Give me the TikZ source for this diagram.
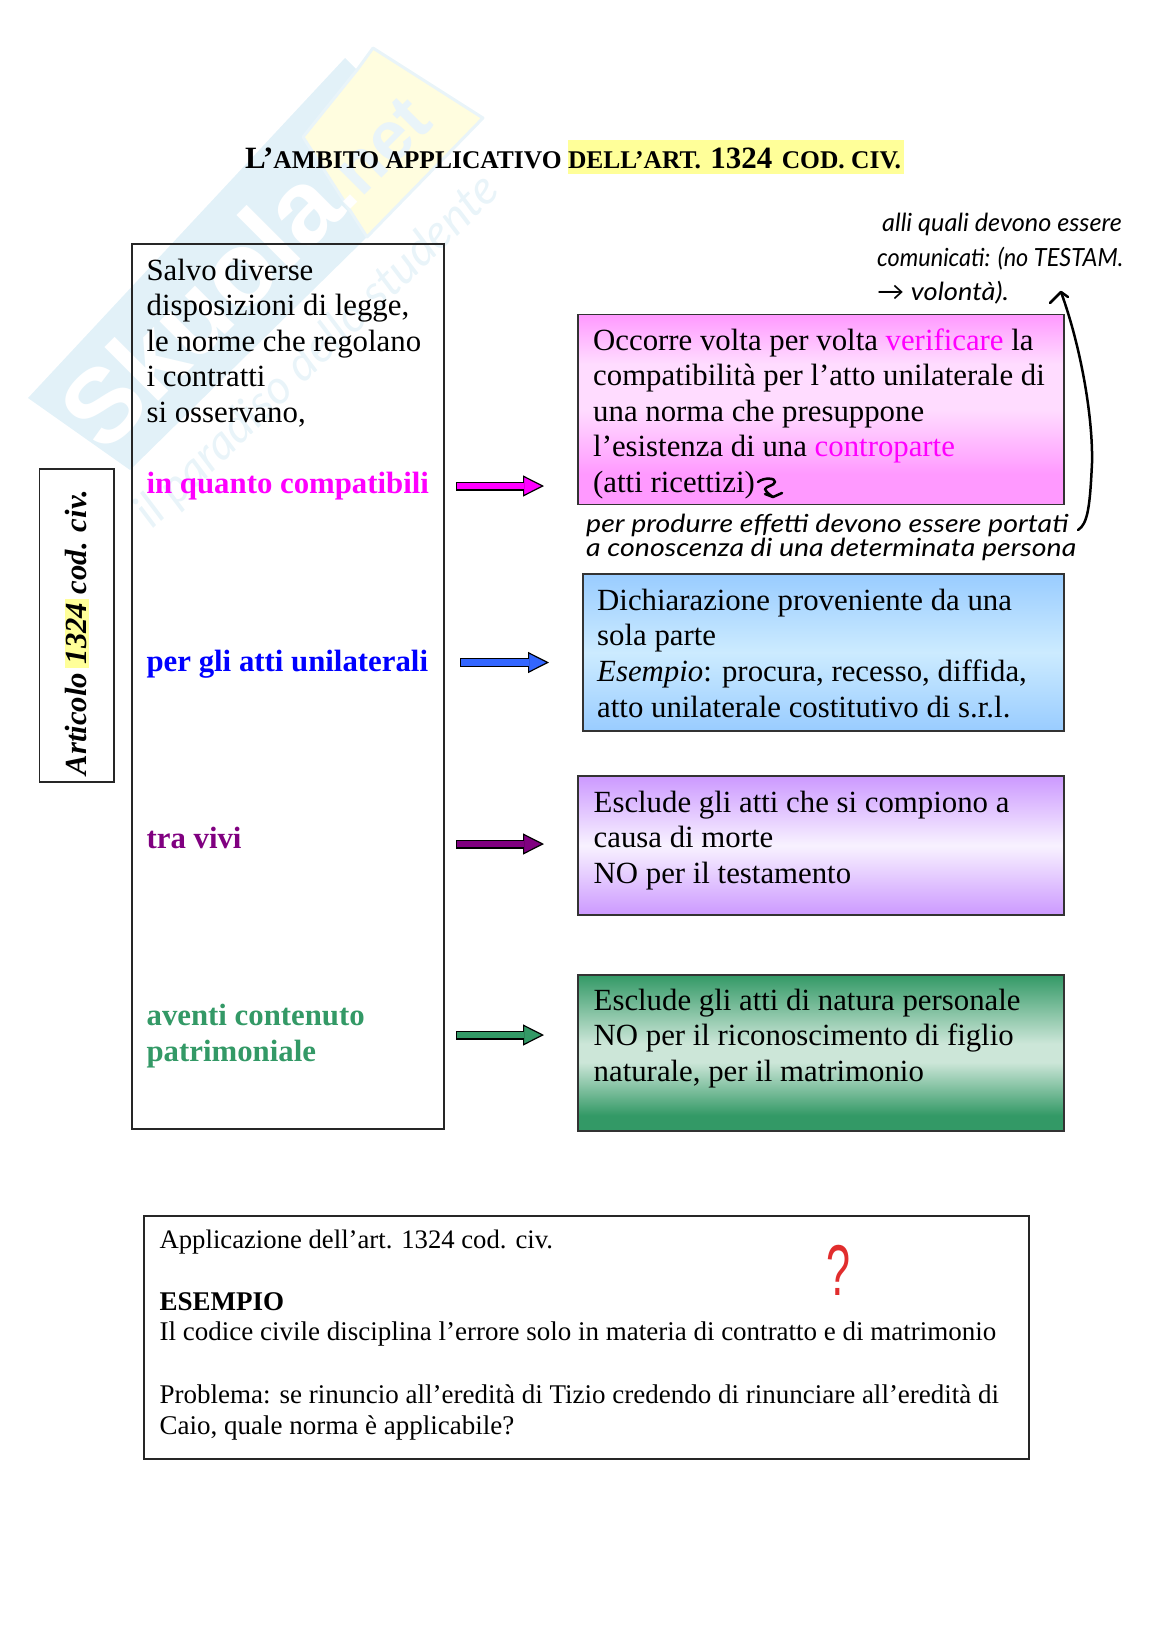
\documentclass[tikz,border=0pt]{standalone}
\usepackage{fontspec}
\setmainfont{Liberation Serif}
\newfontfamily\wmfont{Liberation Sans}
\newfontfamily\handfont{Lato}
\usetikzlibrary{arrows.meta,calc}
\definecolor{hl}{HTML}{FFFF99}
\definecolor{wmblue}{HTML}{E2F1F8}
\definecolor{wmsoft}{HTML}{E9F4F9}
\definecolor{wmyellow}{HTML}{FFFDDF}
\definecolor{mag}{HTML}{FF00FF}
\definecolor{blu}{HTML}{0000FF}
\definecolor{arrowblu}{HTML}{3366FF}
\definecolor{pur}{HTML}{800080}
\definecolor{grn}{HTML}{339966}
\definecolor{pkA}{HTML}{FF99FF}\definecolor{pkB}{HTML}{FFDCFF}
\definecolor{blA}{HTML}{99CCFF}\definecolor{blB}{HTML}{CCEBFF}
\definecolor{prA}{HTML}{CC99FF}\definecolor{prB}{HTML}{F8F2FF}
\definecolor{grA}{HTML}{339966}\definecolor{grB}{HTML}{CCE6D8}
\pgfdeclareverticalshading{pinkgrad}{100bp}{color(0bp)=(pkA);color(25bp)=(pkA);color(33bp)=(pkA);color(50bp)=(pkB);color(62bp)=(pkB);color(75bp)=(pkA);color(100bp)=(pkA)}
\pgfdeclareverticalshading{bluegrad}{100bp}{color(0bp)=(blA);color(25bp)=(blA);color(50bp)=(blB);color(75bp)=(blA);color(100bp)=(blA)}
\pgfdeclareverticalshading{purgrad}{100bp}{color(0bp)=(prA);color(25bp)=(prA);color(50bp)=(prB);color(75bp)=(prA);color(100bp)=(prA)}
\pgfdeclareverticalshading{grngrad}{100bp}{color(0bp)=(grA);color(25bp)=(grA);color(30bp)=(grA);color(47bp)=(grB);color(53bp)=(grB);color(75bp)=(grA);color(100bp)=(grA)}
\tikzset{
  px/.style={x=1pt,y=-1pt},
  plainbox/.style={draw=black!85,line width=1.3pt,inner sep=0pt,outer sep=0pt},
  gradbox/.style={draw=black!80,line width=1.3pt,inner sep=0pt,outer sep=0pt,shade,shading=#1},
  body/.style={anchor=north west,inner sep=0pt,align=left,font=\fontsize{30.8}{35.5}\selectfont},
  boldbody/.style={anchor=north west,inner sep=0pt,align=left,font=\bfseries\fontsize{30.8}{35.5}\selectfont},
  small/.style={anchor=north west,inner sep=0pt,align=left,font=\fontsize{27}{31}\selectfont},
  hand/.style={anchor=base west,inner sep=0pt,font=\handfont\itshape\fontsize{25}{25}\selectfont},
  pen/.style={line width=2.5pt,line cap=round,line join=round,black},
  blockarrow/.style={draw=black,line width=9pt,-{Triangle[length=21pt,width=21pt,fill=#1,line width=1.2pt]},
     postaction={draw=#1,line width=6.4pt,-,shorten >=20pt,shorten <=1.3pt}},
}
\newcommand{\fs}{\rule{0pt}{24pt}}
\newcommand{\fss}{\rule{0pt}{21pt}}
\begin{document}
\begin{tikzpicture}[px]
\useasboundingbox (0,0) rectangle (1148,1627);
% watermark
\fill[wmblue] (28,398) -- (345,58) -- (357,70) -- (303,137) -- (367,237) -- (130,470) -- cycle;
\filldraw[fill=wmyellow,draw=wmsoft,line width=3pt,line join=round] (373,48) -- (483,118) -- (367,237) -- (303,137) -- (357,70) -- cycle;
\node[name=wm,rotate=45,anchor=base west,text=white,inner sep=0pt,font=\wmfont\bfseries\fontsize{105}{105}\selectfont] at (104,456) {Skuola};
\node[name=wmdot,rotate=45,anchor=base west,text=white,inner sep=0pt,font=\wmfont\bfseries\fontsize{70}{70}\selectfont] at (347,213) {.};
\node[name=wmnet,rotate=45,anchor=base west,text=wmsoft,inner sep=0pt,font=\wmfont\bfseries\fontsize{70}{70}\selectfont] at (361,199) {net};
\node[name=wmsub,rotate=44,text=wmsoft,inner sep=0pt,font=\handfont\itshape\fontsize{47}{47}\selectfont] at (318,352) {il paradiso dello studente};
% title
\node[name=title,anchor=base west,inner sep=0pt,font=\bfseries\fontsize{25.5}{30}\selectfont] at (245,168)
 {{\fontsize{31}{30}\selectfont L’}AMBITO APPLICATIVO \setlength{\fboxsep}{0pt}\colorbox{hl}{\rule[-6pt]{0pt}{34pt}DELL’ART.\kern3pt\ {\fontsize{31}{30}\selectfont 1324}\kern3pt\ COD. CIV.\kern3pt}};
% boxes
\node[plainbox,name=main,minimum width=312pt,minimum height=885pt] at (288,686.5) {};
\node[plainbox,name=art,rotate=90,minimum width=313pt,minimum height=74.5pt,font=\bfseries\itshape\fontsize{30.7}{31}\selectfont] at (76.75,625.5)
 {\raisebox{1.5pt}{Articolo\kern-3pt\ \setlength{\fboxsep}{0pt}\colorbox{hl}{\rule[-2pt]{0pt}{24pt}\kern4pt 1324\kern4pt}\kern-3pt\ cod. civ.}\kern14pt};
\node[gradbox=pinkgrad,name=pink,minimum width=486pt,minimum height=190pt] at (821,409.5) {};
\node[gradbox=bluegrad,name=azz,minimum width=481pt,minimum height=157pt] at (823.5,652.5) {};
\node[gradbox=purgrad,name=viola,minimum width=486pt,minimum height=139pt] at (821,845.5) {};
\node[gradbox=grngrad,name=verde,minimum width=486pt,minimum height=156pt] at (821,1053) {};
\node[plainbox,name=es,minimum width=885pt,minimum height=243pt] at (586.5,1337.5) {};
% left text
\node[body,name=t0] at (146.4,256) {\fs Salvo diverse\\disposizioni di legge,\\le norme che regolano\\i contratti\\si osservano,};
\node[boldbody,name=l1,text=mag] at (146.4,469) {\fs in quanto compatibili};
\node[boldbody,name=l2,text=blu] at (146.4,647.6) {\fs per gli atti unilaterali};
\node[boldbody,name=l3,text=pur] at (146.4,824) {\fs tra vivi};
\node[boldbody,name=l4,text=grn] at (146.4,1001.6) {\fs aventi contenuto\\patrimoniale};
% right text
\node[body,name=tp] at (593,326) {\fs Occorre volta per volta \textcolor{mag}{verificare} la\\compatibilità per l’atto unilaterale di\\una norma che presuppone\\l’esistenza di una \textcolor{mag}{controparte}\\(atti ricettizi)};
\node[body,name=tb] at (597,586) {\fs Dichiarazione proveniente da una\\sola parte\\\textit{Esempio}: procura, recesso, diffida,\\[0.8pt]atto unilaterale costitutivo di s.r.l.};
\node[body,name=tv] at (593.5,788) {\fs Esclude gli atti che si compiono a\\causa di morte\\NO per il testamento};
\node[body,name=tg] at (593.5,986) {\fs Esclude gli atti di natura personale\\NO per il riconoscimento di figlio\\[0.7pt]naturale, per il matrimonio};
% arrows
\coordinate (a1s) at ([xshift=12pt]main.east |- 0,486);
\coordinate (a1e) at ([xshift=-34pt]pink.west |- 0,486);
\coordinate (a2s) at ([xshift=16pt]main.east |- 0,662.5);
\coordinate (a2e) at ([xshift=-34pt]azz.west |- 0,662.5);
\coordinate (a3s) at ([xshift=12pt]main.east |- 0,844);
\coordinate (a3e) at ([xshift=-34pt]viola.west |- 0,844);
\coordinate (a4s) at ([xshift=12pt]main.east |- 0,1035);
\coordinate (a4e) at ([xshift=-34pt]verde.west |- 0,1035);
\draw[blockarrow=mag] (a1s) -- (a1e);
\draw[blockarrow=arrowblu] (a2s) -- (a2e);
\draw[blockarrow=pur] (a3s) -- (a3e);
\draw[blockarrow=grn] (a4s) -- (a4e);
% bottom text
\node[small,name=te] at (159.4,1227.5) {\fss{\fontsize{26.7}{31}\selectfont Applicazione dell’art. 1324 cod. civ.}\\[0pt]\\\textbf{ESEMPIO}\\[-0.8pt]Il codice civile disciplina l’errore solo in materia di contratto e di matrimonio\\[0pt]\\[0.8pt]Problema: se rinuncio all’eredità di Tizio credendo di rinunciare all’eredità di\\Caio, quale norma è applicabile?};
% handwriting
\node[hand,name=h1,xscale=1.01] at (882,231) {alli quali devono essere};
\node[hand,name=h2,xscale=0.94] at (877,266) {comunicati: (no TESTAM.};
\node[hand,name=h3,xscale=1.09] at (877,300) {→ volontà).};
\node[hand,name=h4,xscale=1.14] at (586,532) {per produrre effetti devono essere portati};
\node[hand,name=h5,xscale=1.14] at (586,556) {a conoscenza di una determinata persona};
\coordinate (cs) at (1078,530);
\coordinate (ce) at (1061,292);
\draw[pen] (cs) .. controls (1088,524) and (1090,505) .. (1092,463) .. controls (1093,420) and (1082,350) .. (ce);
\draw[pen] (1050,303) -- (ce) -- (1068,297);
\coordinate (ss) at (758,482);
\coordinate (se) at (773,497);
\draw[pen] (ss) .. controls (764,477) and (776,478) .. (775,482) .. controls (774,486) and (766,486) .. (765,489) .. controls (766,492) and (770,495) .. (se);
\draw[pen] (765,494) -- (se) -- (782,493);
% question mark
\node[name=q,text={rgb,255:red,225;green,45;blue,45},xscale=0.6,inner sep=0pt,font=\wmfont\fontsize{72}{72}\selectfont] at (839,1270) {?};
\end{tikzpicture}
\end{document}
